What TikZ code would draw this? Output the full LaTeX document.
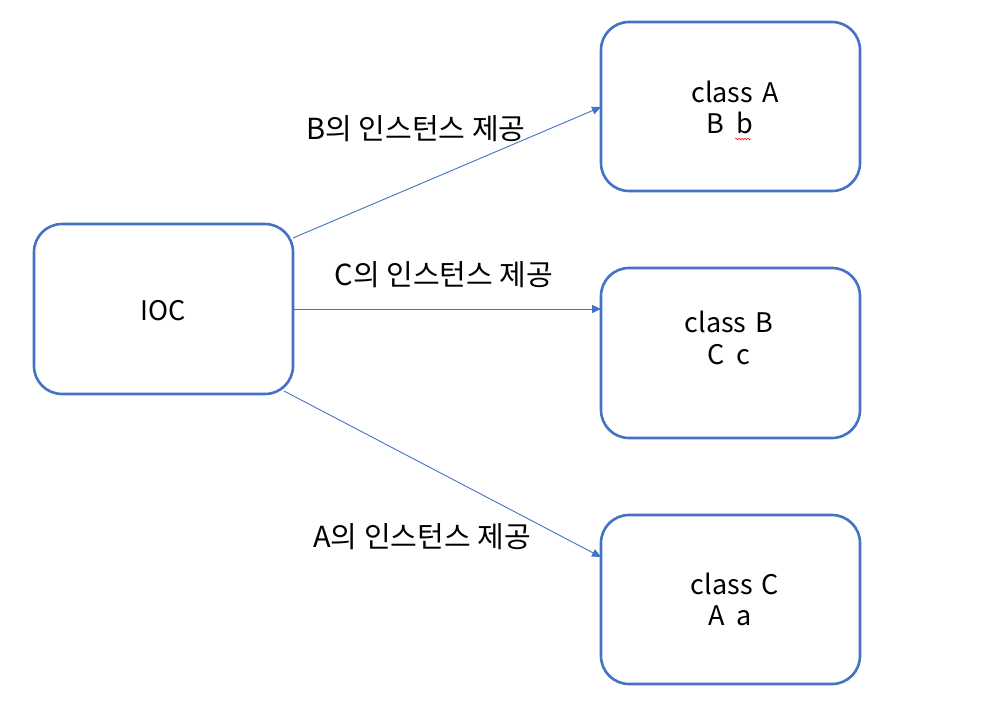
\documentclass[tikz,border=0pt]{standalone}
\usepackage{fontspec}
\setmainfont{Noto Sans CJK KR}
\usetikzlibrary{arrows.meta,decorations.pathmorphing}
\definecolor{officeblue}{HTML}{4472C4}
\begin{document}
\begin{tikzpicture}[x=1pt,y=-1pt,
  box/.style={draw=officeblue,line width=2.6pt,rounded corners=28pt,fill=white},
  conn/.style={draw=officeblue,line width=0.9pt,-{Triangle[length=9pt,width=8pt]}},
  lbl/.style={font=\fontsize{29}{32}\selectfont,inner sep=0pt,align=center},
  txt/.style={font=\fontsize{27}{32}\selectfont,inner sep=0pt,align=center}]
\useasboundingbox (0,0) rectangle (982,723);
\fill[white] (0,0) rectangle (982,723);
% boxes
\draw[box] (34,224) rectangle (293,394);
\draw[box] (601,22) rectangle (860,191);
\draw[box] (601,268) rectangle (860,438);
\draw[box] (601,515) rectangle (860,684);
\coordinate (ioc1) at (293,238);
\coordinate (ioc2) at (293,309);
\coordinate (ioc3) at (284,391);
\coordinate (ca) at (601,107);
\coordinate (cb) at (601,309);
\coordinate (cc) at (601,557);
\draw[conn] (ioc1) -- (ca);
\draw[conn] (ioc2) -- (cb);
\draw[conn] (ioc3) -- (cc);
% texts
\node[txt] (ioc) at (163,311) {IOC};
\node[txt] (a1) at (735,92) {class\hspace{3pt} A};
\node[txt] (a2) at (730,123) {B\hspace{6pt} b};
\node[txt] (b1) at (729,322) {class\hspace{3pt} B};
\node[txt] (b2) at (729,355) {C\hspace{6pt} c};
\node[txt] (c1) at (735,584) {class\hspace{3pt} C};
\node[txt] (c2) at (730,616) {A\hspace{6pt} a};
\node[lbl] (l1) at (416,129) {B의 인스턴스 제공};
\node[lbl] (l2) at (444,275) {C의 인스턴스 제공};
\node[lbl] (l3) at (422,537) {A의 인스턴스 제공};
\draw[red,line width=0.5pt,decorate,decoration={snake,amplitude=0.8pt,segment length=3pt}] (735,139) -- (751,139);
\end{tikzpicture}
\end{document}
